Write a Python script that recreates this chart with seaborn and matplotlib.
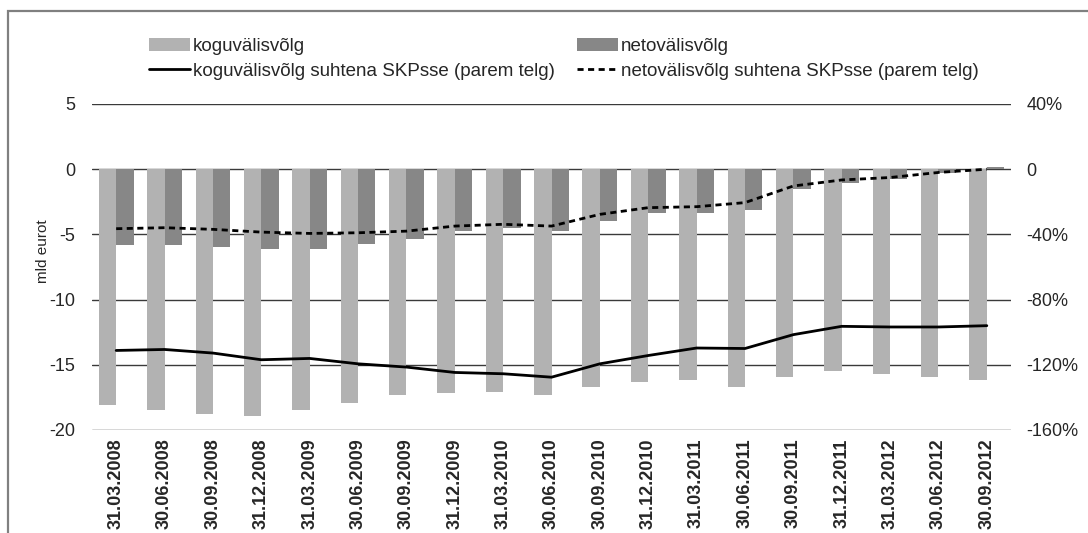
import matplotlib
matplotlib.use("Agg")
import matplotlib.pyplot as plt
import seaborn as sns
import pandas as pd
import numpy as np
from matplotlib.patches import Rectangle
from matplotlib.lines import Line2D
from matplotlib.ticker import FixedLocator


dates = ['31.03.2008', '30.06.2008', '30.09.2008', '31.12.2008', '31.03.2009',
         '30.06.2009', '30.09.2009', '31.12.2009', '31.03.2010', '30.06.2010',
         '30.09.2010', '31.12.2010', '31.03.2011', '30.06.2011', '30.09.2011',
         '31.12.2011', '31.03.2012', '30.06.2012', '30.09.2012']

# mld eurot
gross_debt = [-18.05, -18.44, -18.8, -18.92, -18.44, -17.95, -17.3, -17.2, -17.08, -17.3,
              -16.67, -16.33, -16.2, -16.67, -15.95, -15.49, -15.72, -15.95, -16.2]
net_debt = [-5.85, -5.85, -5.97, -6.1, -6.1, -5.74, -5.36, -4.74, -4.49, -4.74,
            -4.0, -3.38, -3.38, -3.13, -1.54, -1.03, -0.77, -0.26, 0.15]

# % of GDP (right axis)
gross_gdp = [-111.2, -110.6, -112.8, -116.9, -116.1, -119.4, -121.4, -124.7, -125.5, -127.6,
             -119.4, -114.3, -109.7, -110.0, -101.5, -96.4, -96.8, -96.8, -96.0]
net_gdp = [-36.5, -35.9, -36.9, -38.6, -39.4, -39.0, -38.0, -34.9, -33.8, -34.9,
           -27.7, -23.6, -23.0, -20.5, -10.3, -6.6, -5.1, -2.0, 0.0]

lbl_gross = 'koguvälisvõlg'
lbl_net = 'netovälisvõlg'
lbl_gross_gdp = 'koguvälisvõlg suhtena SKPsse (parem telg)'
lbl_net_gdp = 'netovälisvõlg suhtena SKPsse (parem telg)'

light = '#b2b2b2'
dark = '#878787'

bars = pd.DataFrame({
    'kuupäev': dates * 2,
    'väärtus': gross_debt + net_debt,
    'seeria': [lbl_gross] * len(dates) + [lbl_net] * len(dates),
})

sns.set_style("white")
plt.rcParams['font.family'] = ['Liberation Sans', 'DejaVu Sans']
plt.rcParams['axes.unicode_minus'] = False

fig = plt.figure(figsize=(10.88, 5.33), dpi=100)
ax = fig.add_axes([92 / 1088, 1 - 430 / 533, 919 / 1088, 326 / 533])

sns.barplot(data=bars, x='kuupäev', y='väärtus', hue='seeria',
            palette=[light, dark], width=0.72, gap=0, linewidth=0,
            saturation=1, ax=ax, legend=False)

ax.set_xlim(-0.5, len(dates) - 0.5)
ax.set_ylim(-20, 5)
ax.yaxis.set_major_locator(FixedLocator([-20, -15, -10, -5, 0, 5]))
ax.grid(axis='y', color='#3a3a3a', linewidth=1.0)
ax.grid(axis='x', visible=False)
ax.set_axisbelow(True)
for s in ax.spines.values():
    s.set_visible(False)
ax.set_xlabel('')
ax.set_ylabel('mld eurot', fontsize=11)
ax.yaxis.set_label_coords(-0.046, 0.55)
ax.tick_params(axis='y', length=0, pad=12, labelsize=13)
ax.tick_params(axis='x', length=0, pad=6)
ax.set_xticks(range(len(dates)))
ax.set_xticklabels(dates, rotation=90, fontsize=13, fontweight='bold')

ax2 = ax.twinx()
xs = np.arange(len(dates))
sns.lineplot(x=xs, y=gross_gdp, color='black', linewidth=2, ax=ax2)
sns.lineplot(x=xs, y=net_gdp, color='black', linewidth=2, linestyle=(0, (2.2, 1.6)), ax=ax2)
ax2.set_ylim(-160, 40)
ax2.yaxis.set_major_locator(FixedLocator([-160, -120, -80, -40, 0, 40]))
ax2.set_yticklabels(['-160%', '-120%', '-80%', '-40%', '0', '40%'])
ax2.tick_params(axis='y', length=0, pad=11, labelsize=13)
ax2.grid(False)
for s in ax2.spines.values():
    s.set_visible(False)

handles = [
    Rectangle((0, 0), 1, 1, color=light, linewidth=0),
    Line2D([], [], color='black', linewidth=2),
    Rectangle((0, 0), 1, 1, color=dark, linewidth=0),
    Line2D([], [], color='black', linewidth=2, linestyle=(0, (2.2, 1.6))),
]
labels = [lbl_gross, lbl_gross_gdp, lbl_net, lbl_net_gdp]
fig.legend(handles, labels, ncol=2, loc='upper left', bbox_to_anchor=(149 / 1088, 1 - 38 / 533),
           frameon=False, fontsize=13.5, handlelength=2.2, handletextpad=0.15,
           columnspacing=1.15, labelspacing=0.4, borderaxespad=0, borderpad=0)

# outer frame (cut off at the right and bottom)
fig.patches.append(Rectangle((8 / 1088, -0.1), 1.2, 1 - 11 / 533 + 0.1,
                             transform=fig.transFigure, fill=False,
                             edgecolor='#808080', linewidth=1.6))

fig.savefig('out.png', dpi=100)
